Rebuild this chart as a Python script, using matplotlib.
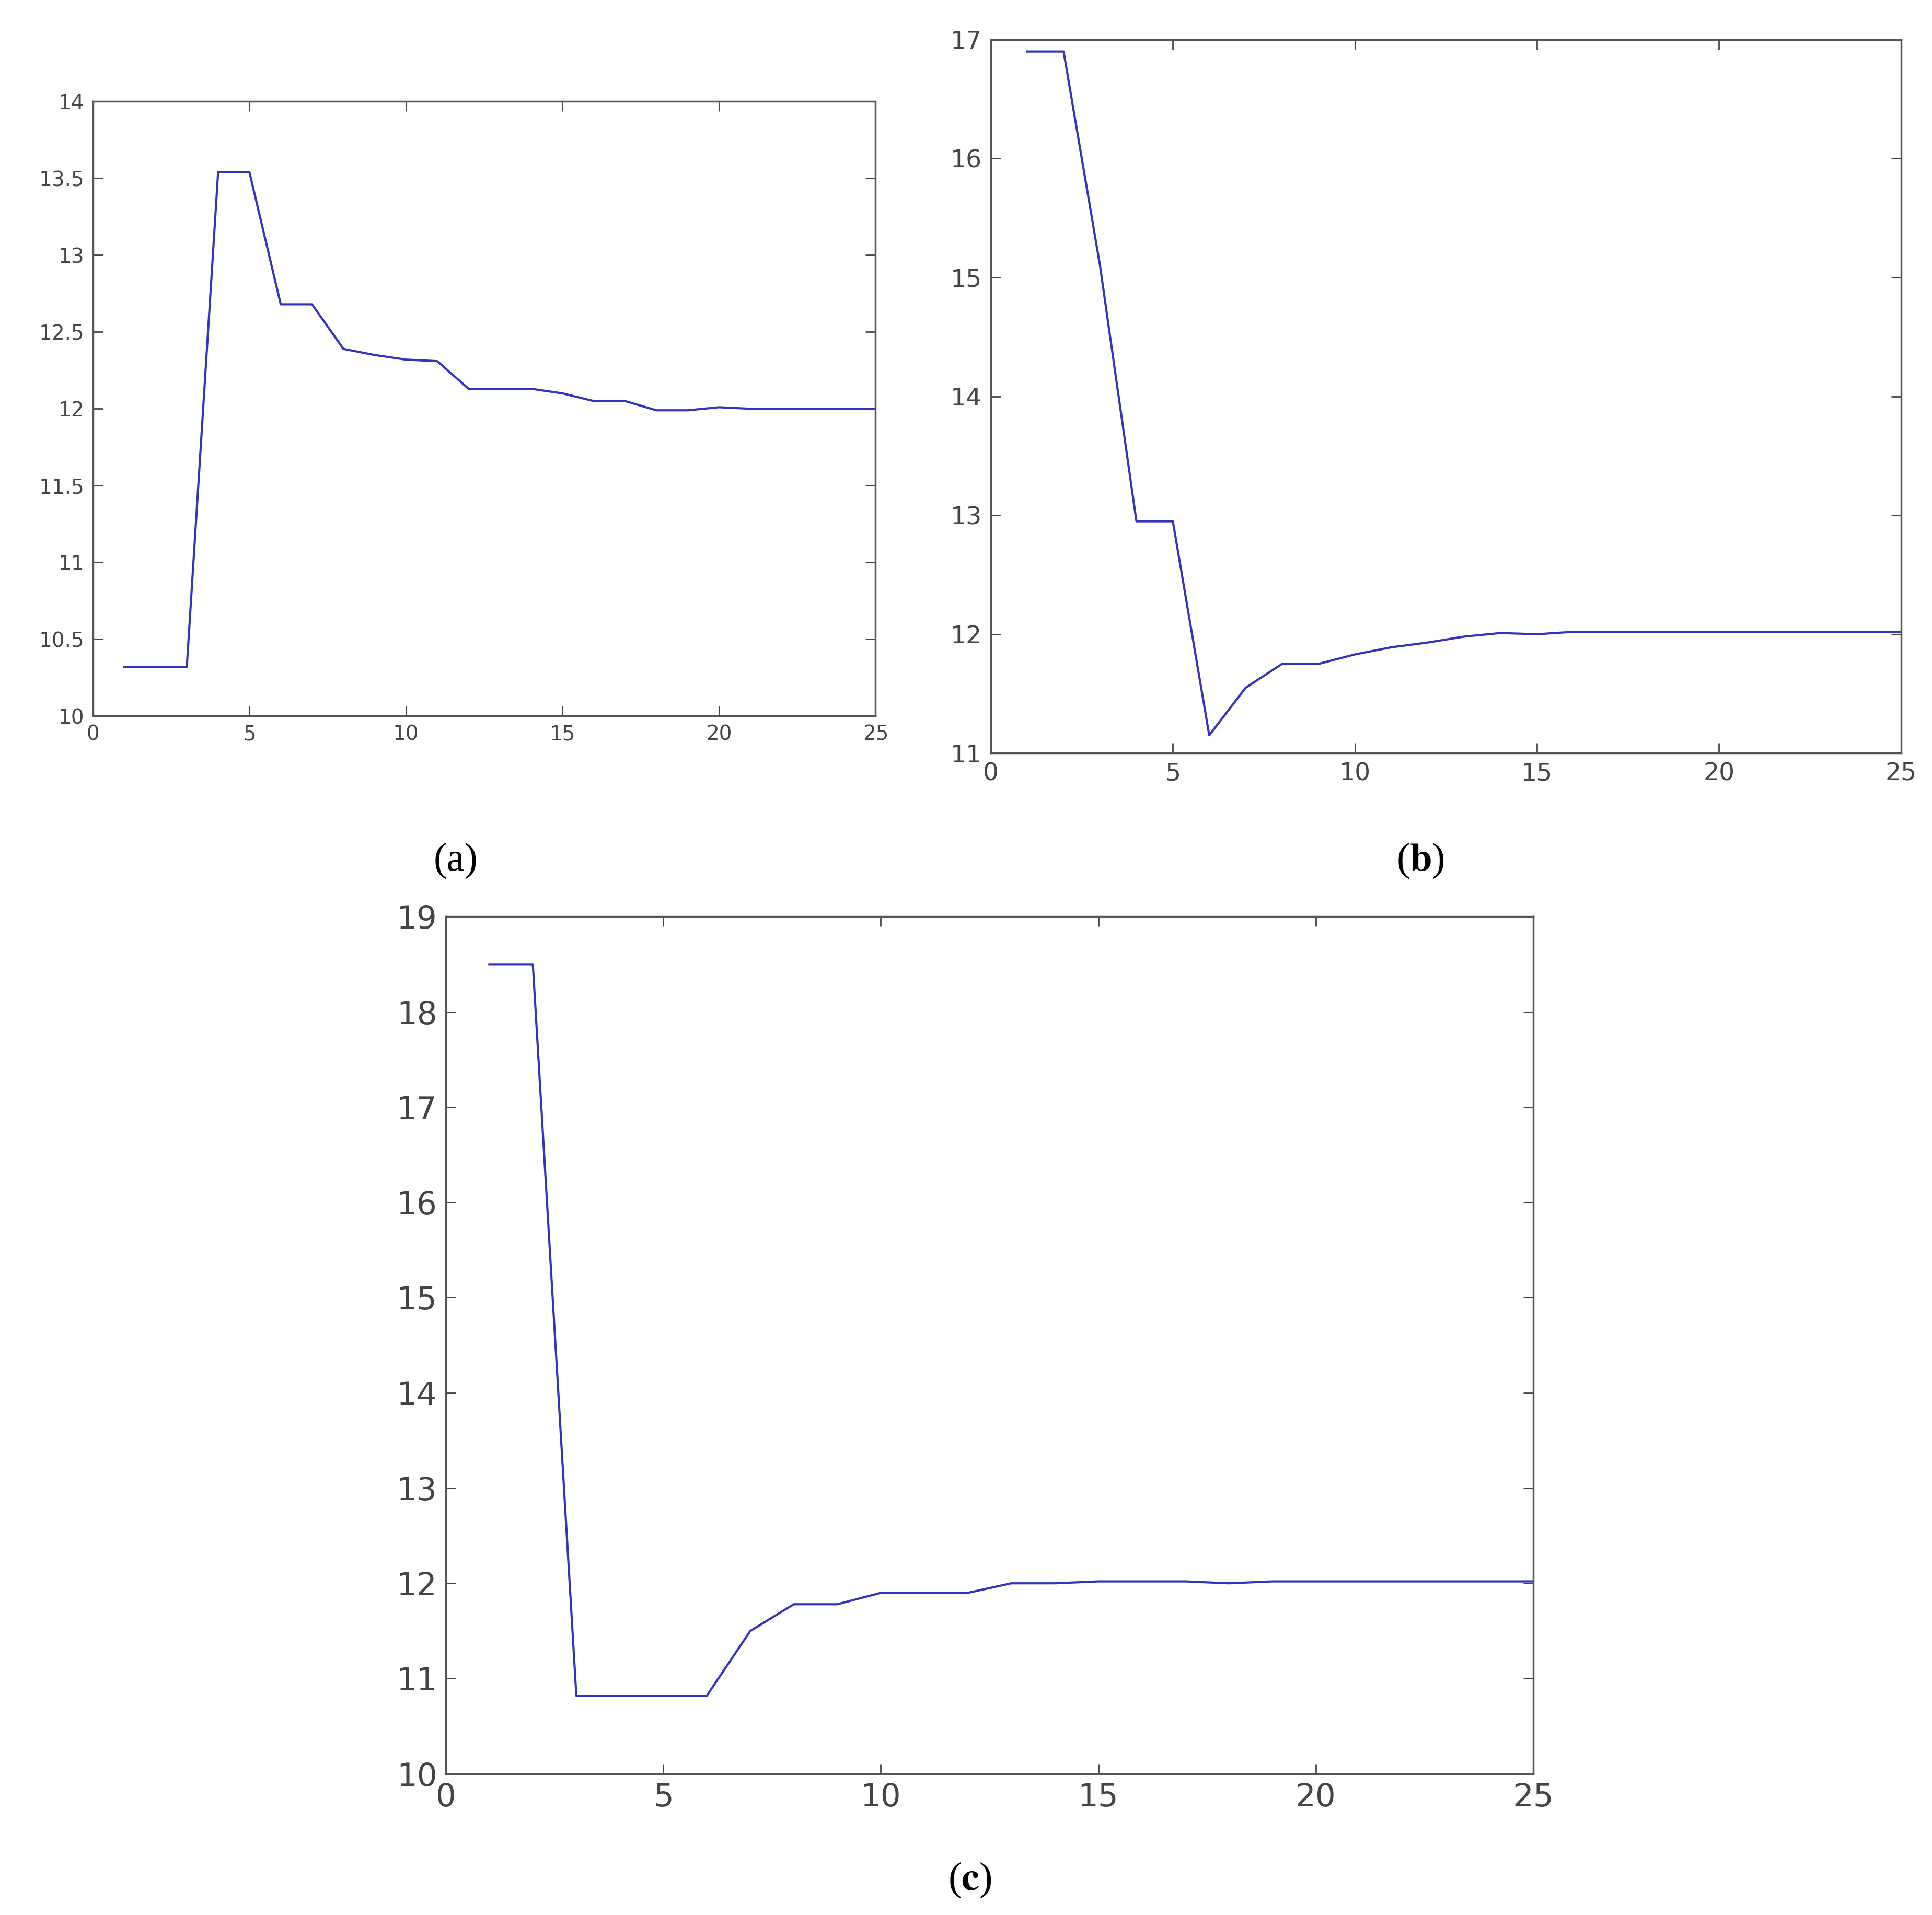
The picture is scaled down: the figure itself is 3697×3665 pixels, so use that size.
import matplotlib
matplotlib.use("Agg")
import matplotlib.pyplot as plt
plt.rcParams['mathtext.fontset'] = 'stix'

x = list(range(1, 26))
a_vals = [10.32,10.32,10.32,13.54,13.54,12.68,12.68,12.39,12.35,12.32,12.31,12.13,12.13,12.13,12.10,12.05,12.05,11.99,11.99,12.01,12.0,12.0,12.0,12.0,12.0]
b_vals = [16.9,16.9,15.1,12.95,12.95,11.15,11.55,11.75,11.75,11.83,11.89,11.93,11.98,12.01,12.0,12.02,12.02,12.02,12.02,12.02,12.02,12.02,12.02,12.02,12.02]
c_vals = [18.5,18.5,10.82,10.82,10.82,10.82,11.5,11.78,11.78,11.9,11.9,11.9,12.0,12.0,12.02,12.02,12.02,12.0,12.02,12.02,12.02,12.02,12.02,12.02,12.02]

fig = plt.figure(figsize=(36.97, 36.65), dpi=100)
W, H = 1560, 1546

def mk(l, r, t, b, vals, ylim, yticks, ytl, fs):
    ax = fig.add_axes([l/W, 1-b/H, (r-l)/W, (b-t)/H])
    ax.plot(x, vals, color='#3333bb', lw=3)
    ax.set_xlim(0, 25)
    ax.set_ylim(*ylim)
    ax.set_xticks([0,5,10,15,20,25])
    ax.set_yticks(yticks)
    ax.set_yticklabels(ytl)
    ax.tick_params(direction='in', top=True, right=True, labelsize=fs, length=14, width=2, colors='#444444', pad=12)
    for s in ax.spines.values():
        s.set_color('#555555'); s.set_linewidth(2.5)
    return ax

mk(75, 707, 82, 578, a_vals, (10, 14), [10,10.5,11,11.5,12,12.5,13,13.5,14],
   ['10','10.5','11','11.5','12','12.5','13','13.5','14'], 28)
mk(800, 1535, 32, 608, b_vals, (11, 17), list(range(11,18)), [str(v) for v in range(11,18)], 34)
mk(360, 1238, 740, 1432, c_vals, (10, 19), list(range(10,20)), [str(v) for v in range(10,20)], 44)

fig.text(368/W, 1-695/H, '(a)', ha='center', va='center', fontsize=55, family='Liberation Serif')
fig.text(1147/W, 1-695/H, r'($\mathbf{b}$)', ha='center', va='center', fontsize=55, family='Liberation Serif')
fig.text(783/W, 1-1518/H, r'($\mathbf{c}$)', ha='center', va='center', fontsize=55, family='Liberation Serif')

fig.savefig('out.png', dpi=100)
